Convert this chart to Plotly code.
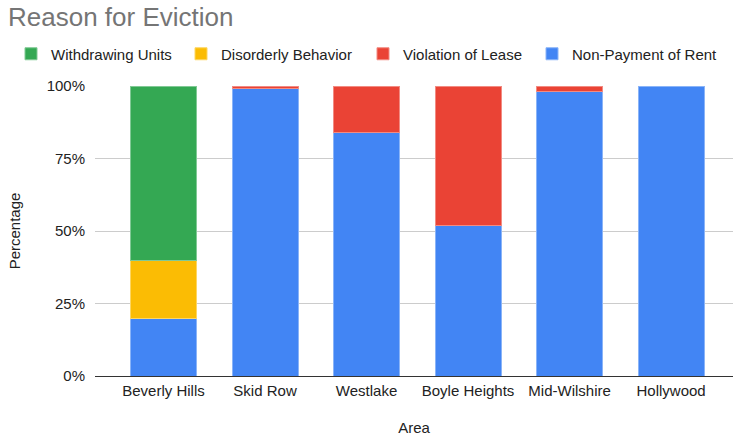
import plotly.graph_objects as go

areas = ["Beverly Hills", "Skid Row", "Westlake", "Boyle Heights", "Mid-Wilshire", "Hollywood"]
non_payment = [0.20, 0.99, 0.84, 0.52, 0.98, 1.00]
violation = [0.00, 0.01, 0.16, 0.48, 0.02, 0.00]
disorderly = [0.20, 0.00, 0.00, 0.00, 0.00, 0.00]
withdrawing = [0.60, 0.00, 0.00, 0.00, 0.00, 0.00]
tick_vals = [0, 0.25, 0.5, 0.75, 1.0]
tick_text = ["0%", "25%", "50%", "75%", "100%"]

# name, values, fill, edge, legend id, legend x (px)
series = [
    ("Non-Payment of Rent", non_payment, "#4285F4", "#8AB4F8", "legend4", 532),
    ("Violation of Lease", violation, "#EA4335", "#F28B82", "legend3", 363),
    ("Disorderly Behavior", disorderly, "#FBBC04", "#FDD663", "legend2", 181),
    ("Withdrawing Units", withdrawing, "#34A853", "#81C995", "legend", 11),
]

W, H = 733, 442
font = "Arial, Liberation Sans, sans-serif"
fig = go.Figure()
legends = {}
for name, vals, col, edge, lg, lx in series:
    fig.add_trace(go.Bar(
        x=areas, y=[v if v else None for v in vals], name=name,
        marker=dict(color=col, line=dict(color=edge, width=1)),
        hoverinfo="skip", legend=lg,
    ))
    legends[lg] = dict(orientation="h", x=lx / W, xref="container", xanchor="left",
                       y=1 - 54 / H, yref="container", yanchor="middle",
                       font=dict(family=font, size=15, color="#222222"),
                       bgcolor="rgba(0,0,0,0)", itemclick=False, itemdoubleclick=False)

fig.update_layout(
    barmode="stack",
    bargap=0.35,
    width=W, height=H,
    margin=dict(l=95, r=0, t=86, b=66),
    paper_bgcolor="white", plot_bgcolor="white",
    font=dict(family=font, size=15, color="#222222"),
    title=dict(text="Reason for Eviction", x=8 / W, xref="container", xanchor="left",
               y=1 - 17 / H, yref="container", yanchor="middle",
               font=dict(family=font, size=26, color="#757575")),
    showlegend=True,
    **legends,
)
fig.update_xaxes(
    range=[-0.675, 5.61], showgrid=False, showline=False, zeroline=False,
    ticklabelstandoff=4,
    tickfont=dict(family=font, size=15, color="#222222"),
    title=dict(text="Area", standoff=24, font=dict(family=font, size=15, color="#222222")),
    fixedrange=True,
)
fig.update_yaxes(
    range=[0, 1], tickvals=tick_vals, ticktext=tick_text,
    showgrid=True, gridcolor="#CCCCCC", gridwidth=1,
    zeroline=True, zerolinecolor="#333333", zerolinewidth=1,
    ticklabelstandoff=9,
    tickfont=dict(family=font, size=15, color="#222222"),
    title=dict(text="Percentage", standoff=22, font=dict(family=font, size=15, color="#222222")),
    fixedrange=True,
)

fig.write_html("out.html", config={"displayModeBar": False})

with open("out.html", "r", encoding="utf-8") as f:
    html = f.read()
html = html.replace("<head>", "<head><style>html,body{margin:0;padding:0;overflow:hidden;}</style>", 1)
with open("out.html", "w", encoding="utf-8") as f:
    f.write(html)
